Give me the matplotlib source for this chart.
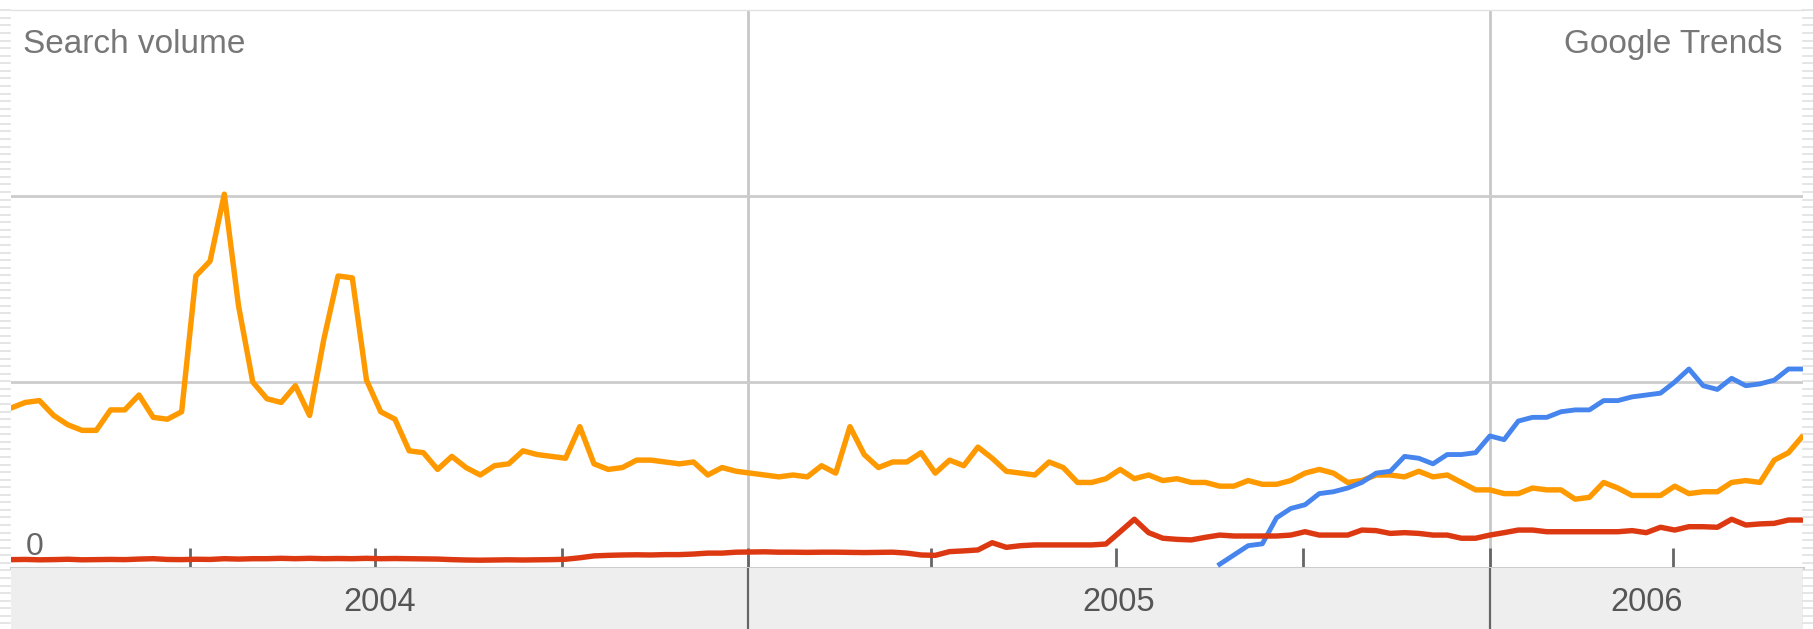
import numpy as np
import pandas as pd
import matplotlib
matplotlib.use("Agg")
import matplotlib.pyplot as plt
import matplotlib.dates as mdates
from matplotlib.lines import Line2D

# ---------------- data ----------------
weeks = pd.date_range("2004-01-04", periods=127, freq="W-SUN")
years = [2004, 2005, 2006]

orange = [
    0.86, 0.89, 0.90, 0.82, 0.77, 0.74, 0.74, 0.85, 0.85, 0.93,
    0.81, 0.80, 0.84, 1.57, 1.65, 2.01, 1.41, 1.00, 0.91, 0.89,
    0.98, 0.82, 1.23, 1.57, 1.56, 1.01, 0.84, 0.80, 0.63, 0.62,
    0.53, 0.60, 0.54, 0.50, 0.55, 0.56, 0.63, 0.61, 0.60, 0.59,
    0.76, 0.56, 0.53, 0.54, 0.58, 0.58, 0.57, 0.56, 0.57, 0.50,
    0.54, 0.52, 0.51, 0.50, 0.49, 0.50, 0.49, 0.55, 0.51, 0.76,
    0.61, 0.54, 0.57, 0.57, 0.62, 0.51, 0.58, 0.55, 0.65, 0.59,
    0.52, 0.51, 0.50, 0.57, 0.54, 0.46, 0.46, 0.48, 0.53, 0.48,
    0.50, 0.47, 0.48, 0.46, 0.46, 0.44, 0.44, 0.47, 0.45, 0.45,
    0.47, 0.51, 0.53, 0.51, 0.46, 0.47, 0.50, 0.50, 0.49, 0.52,
    0.49, 0.50, 0.46, 0.42, 0.42, 0.40, 0.40, 0.43, 0.42, 0.42,
    0.37, 0.38, 0.46, 0.43, 0.39, 0.39, 0.39, 0.44, 0.40, 0.41,
    0.41, 0.46, 0.47, 0.46, 0.58, 0.62, 0.71,
]

red = [
    0.045, 0.046, 0.044, 0.045, 0.047, 0.044, 0.045, 0.046, 0.045, 0.048,
    0.050, 0.046, 0.045, 0.047, 0.046, 0.050, 0.048, 0.050, 0.050, 0.052,
    0.050, 0.052, 0.050, 0.051, 0.050, 0.052, 0.050, 0.051, 0.050, 0.049,
    0.048, 0.045, 0.043, 0.042, 0.043, 0.044, 0.043, 0.044, 0.045, 0.047,
    0.055, 0.065, 0.068, 0.070, 0.071, 0.070, 0.072, 0.072, 0.075, 0.080,
    0.080, 0.085, 0.086, 0.087, 0.085, 0.085, 0.084, 0.085, 0.085, 0.084,
    0.083, 0.084, 0.085, 0.080, 0.070, 0.068, 0.088, 0.092, 0.097, 0.136,
    0.111, 0.120, 0.124, 0.124, 0.124, 0.124, 0.124, 0.129, 0.195, 0.262,
    0.190, 0.160, 0.154, 0.151, 0.165, 0.177, 0.172, 0.172, 0.172, 0.172,
    0.177, 0.195, 0.177, 0.177, 0.177, 0.204, 0.201, 0.186, 0.190, 0.186,
    0.177, 0.177, 0.160, 0.160, 0.177, 0.190, 0.204, 0.204, 0.195, 0.195,
    0.195, 0.195, 0.195, 0.195, 0.201, 0.190, 0.219, 0.204, 0.222, 0.222,
    0.219, 0.262, 0.231, 0.237, 0.240, 0.258, 0.258,
]

blue = [
    0.02, 0.07, 0.12, 0.13, 0.27, 0.32, 0.34, 0.40, 0.41, 0.43,
    0.46, 0.51, 0.52, 0.60, 0.59, 0.56, 0.61, 0.61, 0.62, 0.71,
    0.69, 0.79, 0.81, 0.81, 0.84, 0.85, 0.85, 0.90, 0.90, 0.92,
    0.93, 0.94, 1.00, 1.07, 0.98, 0.96, 1.02, 0.98, 0.99, 1.01,
    1.07, 1.07,
]
blue_weeks = weeks[len(weeks) - len(blue):]

# ---------------- figure ----------------
W, H = 1813, 629
FONT = ["Liberation Sans", "DejaVu Sans"]
plt.rcParams["font.family"] = FONT

fig = plt.figure(figsize=(W / 100, H / 100), dpi=100)
fig.patch.set_facecolor("white")


def fx(px):
    return px / W


def fy(py):
    return 1 - py / H


left, right, top, base = 11, 1802.7, 10, 568
ax = fig.add_axes([fx(left), fy(base), fx(right - left), (base - top) / H])
band = fig.add_axes([fx(left), 0, fx(right - left), (H - base) / H], sharex=ax)

# main plot
ax.set_facecolor("white")
ax.set_ylim(0, 3)
ax.set_xlim(weeks[0], weeks[-1])
ax.set_yticks([1, 2])
ax.yaxis.grid(True, color="#cccccc", lw=2.0)
ax.set_axisbelow(True)
ax.tick_params(axis="y", length=0, labelleft=False)
for s in ["left", "right"]:
    ax.spines[s].set_visible(False)
ax.spines["top"].set_color("#e2e2e2")
ax.spines["top"].set_linewidth(1.0)
ax.spines["bottom"].set_color("#cccccc")
ax.spines["bottom"].set_linewidth(2.2)

ax.xaxis.set_major_locator(mdates.MonthLocator(bymonth=[1, 4, 7, 10]))
ax.tick_params(axis="x", direction="in", length=14.5, width=2.0,
               color="#666666", labelbottom=False)

for yr in years[1:]:
    ax.axvline(pd.Timestamp(f"{yr}-01-01"), color="#c8c8c8", lw=2.0, zorder=0.5)

lw = 3.9
ax.plot(weeks, orange, color="#ff9900", lw=lw, solid_joinstyle="round",
        solid_capstyle="round", zorder=3)
ax.plot(blue_weeks, blue, color="#4684ee", lw=lw - 0.4, solid_joinstyle="round",
        zorder=4)
ax.plot(weeks, red, color="#dc3912", lw=lw, solid_joinstyle="round",
        solid_capstyle="round", zorder=5)

# bottom band
band.set_facecolor("#eeeeee")
band.set_ylim(0, 1)
for s in band.spines.values():
    s.set_visible(False)
band.tick_params(axis="both", length=0, labelbottom=False, labelleft=False)
for yr in years[1:]:
    band.axvline(pd.Timestamp(f"{yr}-01-01"), color="#666666", lw=1.6)

x0, x1 = weeks[0], weeks[-1]
for yr in years:
    s = max(pd.Timestamp(f"{yr}-01-01"), x0)
    e = min(pd.Timestamp(f"{yr + 1}-01-01"), x1)
    mid = s + (e - s) / 2
    band.text(mid, 0.29, str(yr), ha="center", va="baseline",
              fontsize=23.5, color="#555555", family=FONT)

# texts
fig.text(fx(23), fy(53), "Search volume", fontsize=24, color="#777777",
         ha="left", va="baseline", family=FONT)
fig.text(fx(1783), fy(53), "Google Trends", fontsize=24, color="#777777",
         ha="right", va="baseline", family=FONT)
fig.text(fx(26), fy(555), "0", fontsize=23, color="#666666",
         ha="left", va="baseline", family=FONT)

# decorative striped edges
for yy in np.arange(10.3, H, 7.57):
    for xa, xb in [(0, 10), (1803, W)]:
        fig.add_artist(Line2D([fx(xa), fx(xb)], [fy(yy), fy(yy)],
                              transform=fig.transFigure, color="#e0e0e0", lw=1.2))

fig.savefig("out.png", dpi=100, facecolor="white")
